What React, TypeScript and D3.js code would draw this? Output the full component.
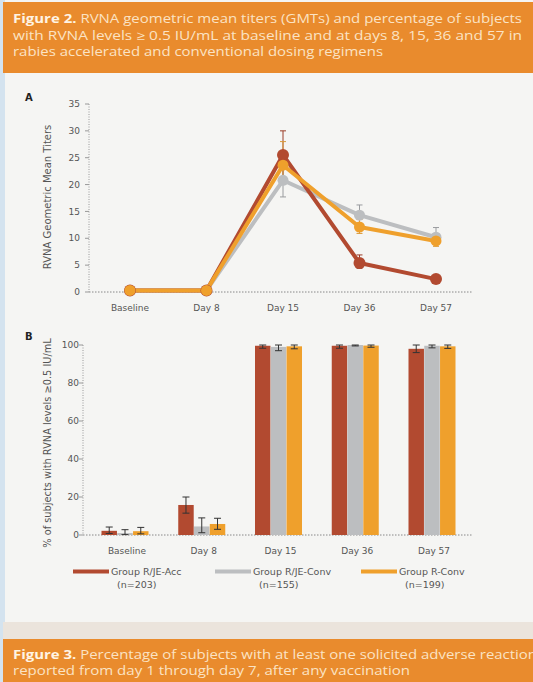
import React from 'react';
import * as d3 from 'd3';

const categories = ['Baseline', 'Day 8', 'Day 15', 'Day 36', 'Day 57'];
const groups = ['Group R/JE-Acc', 'Group R/JE-Conv', 'Group R-Conv'];
const groupN = ['(n=203)', '(n=155)', '(n=199)'];
const colors = ['#b24a30', '#bcbec0', '#efa02c'];
const errColors = ['#9a3d28', '#9a9c9f', '#d99a3a'];

// Panel A: GMTs with 95% CI
const gmtAcc = [0.3, 0.3, 25.5, 5.4, 2.4];
const gmtAccLo = [0.2, 0.2, 21.5, 4.4, 2.0];
const gmtAccHi = [0.5, 0.5, 30.0, 6.9, 2.9];
const gmtJeConv = [0.3, 0.3, 20.8, 14.3, 10.2];
const gmtJeConvLo = [0.2, 0.2, 17.7, 12.6, 8.9];
const gmtJeConvHi = [0.5, 0.5, 23.2, 16.2, 12.0];
const gmtRConv = [0.3, 0.3, 23.6, 12.1, 9.5];
const gmtRConvLo = [0.2, 0.2, 20.5, 10.9, 8.5];
const gmtRConvHi = [0.5, 0.5, 28.0, 13.5, 10.8];

// Panel B: % subjects >= 0.5 IU/mL
const pctAcc = [2.2, 15.8, 99.6, 99.6, 98.0];
const pctAccLo = [0.8, 11.5, 98.3, 98.3, 96.0];
const pctAccHi = [4.2, 20.0, 100, 100, 100];
const pctJeConv = [1.0, 4.5, 99.0, 100, 99.6];
const pctJeConvLo = [0.2, 1.2, 97.0, 99.5, 98.5];
const pctJeConvHi = [2.8, 9.0, 100, 100, 100];
const pctRConv = [2.0, 5.8, 99.3, 99.7, 99.3];
const pctRConvLo = [0.6, 3.0, 98.0, 98.8, 98.2];
const pctRConvHi = [4.0, 8.8, 100, 100, 100];

const gmtTicks = [0, 5, 10, 15, 20, 25, 30, 35];
const pctTicks = [0, 20, 40, 60, 80, 100];

const gmtSeries = [
  { v: gmtAcc, lo: gmtAccLo, hi: gmtAccHi },
  { v: gmtJeConv, lo: gmtJeConvLo, hi: gmtJeConvHi },
  { v: gmtRConv, lo: gmtRConvLo, hi: gmtRConvHi },
];
const pctSeries = [
  { v: pctAcc, lo: pctAccLo, hi: pctAccHi },
  { v: pctJeConv, lo: pctJeConvLo, hi: pctJeConvHi },
  { v: pctRConv, lo: pctRConvLo, hi: pctRConvHi },
];

const chartFont = 'DejaVu Sans, Verdana, sans-serif';
const capFont = 'Open Sans, Noto Sans, sans-serif';
const axisGray = '#555';

export default function App() {
  const xA = d3.scalePoint<string>().domain(categories).range([130, 436]);
  const yA = d3.scaleLinear().domain([0, 35]).range([292, 104]);
  const xB = d3.scalePoint<string>().domain(categories).range([125, 432]);
  const xInner = d3.scaleBand<string>().domain(groups).range([-23.5, 23.5]).paddingInner(0.02);
  const yB = d3.scaleLinear().domain([0, 100]).range([535, 345]);

  const line = d3
    .line<number>()
    .x((_, i) => xA(categories[i]) as number)
    .y((d) => yA(d));

  // draw order: gray, red, orange
  const orderA = [1, 0, 2];

  return (
    <svg width={533} height={682} style={{ position: 'absolute', left: 0, top: 0 }}>
      <rect x={0} y={0} width={533} height={682} fill="#f5f5f3" />
      <rect x={0} y={0} width={5} height={682} fill="#d4e3ef" />

      {/* top caption */}
      <rect x={3} y={2} width={530} height={71} fill="#e98b2d" />
      <g fontFamily={capFont} fontSize={12.5} fill="#fbe3c4">
        <text x={13} y={23} textLength={509} lengthAdjust="spacingAndGlyphs">
          <tspan fontWeight="bold" fill="#fff4e4">Figure 2.</tspan> RVNA geometric mean titers (GMTs) and percentage of subjects
        </text>
        <text x={13} y={39.5} textLength={509} lengthAdjust="spacingAndGlyphs">
          with RVNA levels ≥ 0.5 IU/mL at baseline and at days 8, 15, 36 and 57 in
        </text>
        <text x={13} y={56} textLength={370} lengthAdjust="spacingAndGlyphs">
          rabies accelerated and conventional dosing regimens
        </text>
      </g>

      {/* Panel A */}
      <text x={25} y={101} fontFamily={chartFont} fontWeight="bold" fontSize={10} fill="#222">A</text>
      <line x1={89} x2={89} y1={104} y2={292} stroke="#999" strokeDasharray="1,1.5" />
      <line x1={89} x2={473} y1={292} y2={292} stroke="#888" strokeDasharray="1.5,1.5" />
      {gmtTicks.map((t) => (
        <g key={t} transform={`translate(0,${yA(t)})`}>
          <line x1={85} x2={89} stroke="#999" />
          <text x={80} dy="0.35em" textAnchor="end" fontFamily={chartFont} fontSize={9} fill={axisGray}>{t}</text>
        </g>
      ))}
      <text
        transform="translate(51,197) rotate(-90)"
        textAnchor="middle"
        fontFamily={chartFont}
        fontSize={10}
        fill={axisGray}
      >
        RVNA Geometric Mean Titers
      </text>
      {categories.map((c) => (
        <text key={c} x={xA(c)} y={311} textAnchor="middle" fontFamily={chartFont} fontSize={9} fill={axisGray}>{c}</text>
      ))}
      {orderA.map((k) => (
        <path key={k} d={line(gmtSeries[k].v) as string} fill="none" stroke={colors[k]} strokeWidth={4} strokeLinejoin="round" />
      ))}
      {orderA.map((k) =>
        categories.map((c, i) => {
          const s = gmtSeries[k];
          const x = xA(c) as number;
          if (i < 2) return null;
          return (
            <g key={`e${k}${i}`} stroke={errColors[k]} strokeWidth={1}>
              <line x1={x} x2={x} y1={yA(s.lo[i])} y2={yA(s.hi[i])} />
              <line x1={x - 3} x2={x + 3} y1={yA(s.lo[i])} y2={yA(s.lo[i])} />
              <line x1={x - 3} x2={x + 3} y1={yA(s.hi[i])} y2={yA(s.hi[i])} />
            </g>
          );
        })
      )}
      {orderA.map((k) =>
        categories.map((c, i) => (
          <circle key={`m${k}${i}`} cx={xA(c)} cy={yA(gmtSeries[k].v[i])} r={k === 0 ? 6 : 5.5} fill={colors[k]} />
        ))
      )}

      {/* Panel B */}
      <text x={25} y={340} fontFamily={chartFont} fontWeight="bold" fontSize={10} fill="#222">B</text>
      <line x1={83} x2={83} y1={345} y2={535} stroke="#999" strokeDasharray="1,1.5" />
      <line x1={83} x2={473} y1={535} y2={535} stroke="#888" strokeDasharray="1.5,1.5" />
      {pctTicks.map((t) => (
        <g key={t} transform={`translate(0,${yB(t)})`}>
          <line x1={79} x2={83} stroke="#999" />
          <text x={79} dy="0.35em" textAnchor="end" fontFamily={chartFont} fontSize={9} fill={axisGray}>{t}</text>
        </g>
      ))}
      <text
        transform="translate(51,443) rotate(-90)"
        textAnchor="middle"
        fontFamily={chartFont}
        fontSize={9.8}
        fill={axisGray}
      >
        % of subjects with RVNA levels ≥0.5 IU/mL
      </text>
      {categories.map((c) => (
        <text key={c} x={(xB(c) as number) + 2} y={554} textAnchor="middle" fontFamily={chartFont} fontSize={9} fill={axisGray}>{c}</text>
      ))}
      {categories.map((c, i) => (
        <g key={c} transform={`translate(${xB(c)},0)`}>
          {groups.map((g, k) => {
            const s = pctSeries[k];
            const bx = xInner(g) as number;
            const bw = xInner.bandwidth();
            const cx = bx + bw / 2;
            return (
              <g key={g}>
                <rect x={bx} y={yB(s.v[i])} width={bw} height={yB(0) - yB(s.v[i])} fill={colors[k]} />
                <g stroke="#333" strokeWidth={1}>
                  <line x1={cx} x2={cx} y1={yB(s.lo[i])} y2={yB(s.hi[i])} />
                  <line x1={cx - 3.5} x2={cx + 3.5} y1={yB(s.lo[i])} y2={yB(s.lo[i])} />
                  <line x1={cx - 3.5} x2={cx + 3.5} y1={yB(s.hi[i])} y2={yB(s.hi[i])} />
                </g>
              </g>
            );
          })}
        </g>
      ))}

      {/* legend */}
      {groups.map((g, k) => {
        const lx = [73, 215, 361][k];
        return (
          <g key={g} fontFamily={chartFont} fontSize={9.5} fill="#555">
            <rect x={lx} y={569.5} width={36} height={4} fill={colors[k]} />
            <text x={lx + 38} y={575}>{g}</text>
            <text x={lx + 44} y={587.5}>{groupN[k]}</text>
          </g>
        );
      })}

      {/* bottom caption */}
      <rect x={3} y={622} width={530} height={18} fill="#ebe4dc" />
      <rect x={3} y={639} width={530} height={43} fill="#e98b2d" />
      <g fontFamily={capFont} fontSize={12.5} fill="#fbe3c4">
        <text x={13} y={659} textLength={524} lengthAdjust="spacingAndGlyphs">
          <tspan fontWeight="bold" fill="#fff4e4">Figure 3.</tspan> Percentage of subjects with at least one solicited adverse reaction
        </text>
        <text x={13} y={675} textLength={397} lengthAdjust="spacingAndGlyphs">
          reported from day 1 through day 7, after any vaccination
        </text>
      </g>
    </svg>
  );
}
